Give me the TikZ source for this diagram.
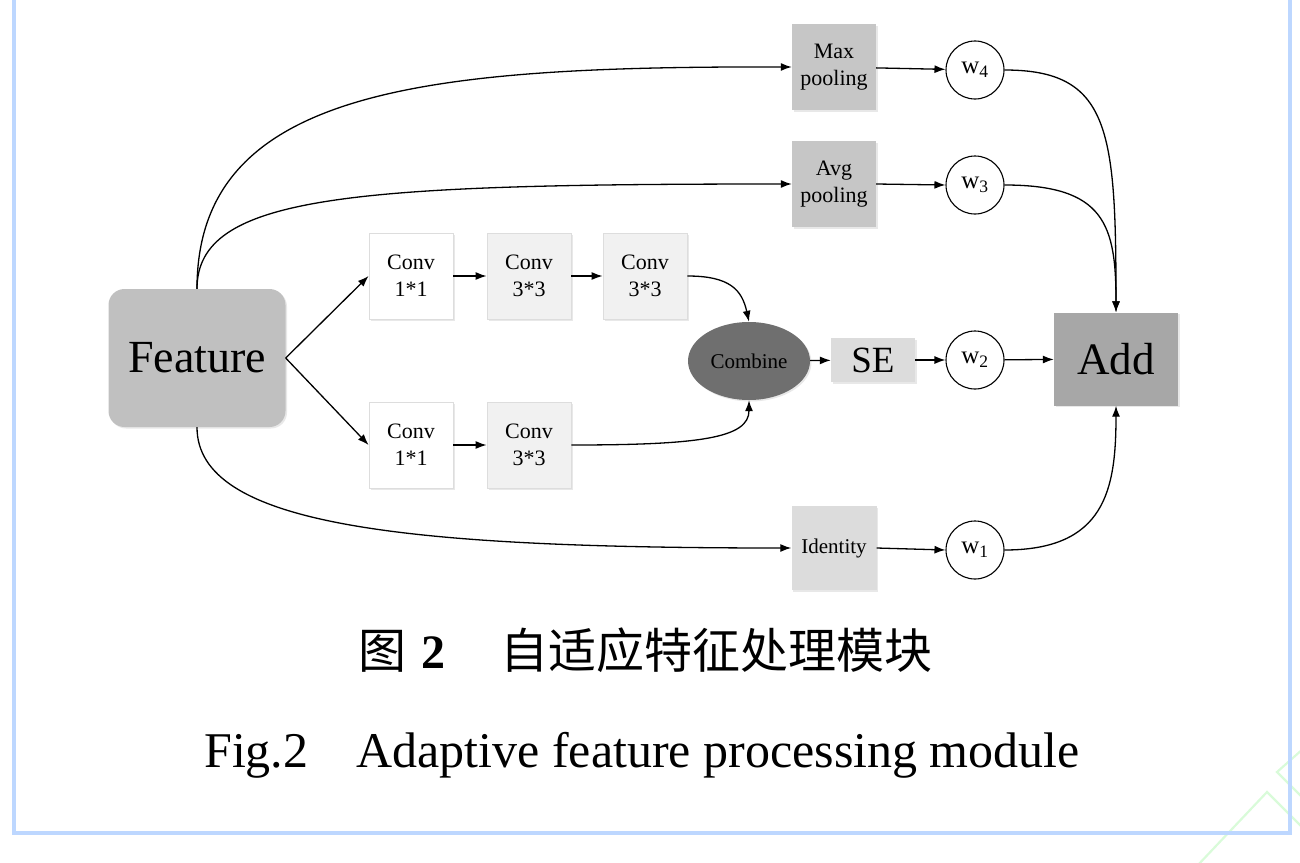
\documentclass[tikz,border=0pt]{standalone}
\usepackage{fontspec}
\setmainfont{Liberation Serif}
\newfontfamily\cjk{Noto Sans CJK SC}
\usetikzlibrary{arrows.meta,shapes.geometric,shadows}
\definecolor{framecol}{HTML}{BDD7FF}
\definecolor{wmark}{HTML}{D9FBD9}
\definecolor{featfill}{HTML}{C0C0C0}
\definecolor{poolfill}{HTML}{C6C6C6}
\definecolor{lightfill}{HTML}{DCDCDC}
\definecolor{convgfill}{HTML}{F1F1F1}
\definecolor{addfill}{HTML}{A7A7A7}
\definecolor{combfill}{HTML}{6F6F6F}
\definecolor{edgecol}{HTML}{DDDDDD}
\begin{document}
\begin{tikzpicture}[x=1pt,y=-1pt,
  arr/.style={-{Latex[length=11pt,width=8pt]}, line width=1.3pt},
  ln/.style={line width=1.3pt},
  shad/.style={drop shadow={shadow xshift=1.5pt,shadow yshift=-1.5pt,opacity=0.18}},
  featbox/.style={shad,fill=featfill,rounded corners=16pt,minimum width=177pt,minimum height=138pt,font=\fontsize{46}{50}\selectfont},
  convw/.style={shad,draw=edgecol,line width=0.8pt,fill=white,minimum width=84pt,minimum height=86pt,align=center,font=\fontsize{22}{27}\selectfont},
  convg/.style={convw,fill=convgfill},
  poolbox/.style={shad,fill=poolfill,minimum width=84pt,minimum height=86pt,align=center,font=\fontsize{22}{27}\selectfont},
  idbox/.style={shad,fill=lightfill,minimum width=85pt,minimum height=84pt,font=\fontsize{21}{25}\selectfont},
  sebox/.style={shad,fill=lightfill,minimum width=84pt,minimum height=44pt,font=\fontsize{37}{40}\selectfont},
  addbox/.style={shad,fill=addfill,minimum width=124pt,minimum height=93pt,font=\fontsize{45}{48}\selectfont},
  combell/.style={ellipse,shad,fill=combfill,minimum width=122pt,minimum height=78pt,inner sep=0pt,font=\fontsize{21}{25}\selectfont},
  circ/.style={circle,draw,line width=1.1pt,fill=white,minimum size=58pt,inner sep=0pt,font=\fontsize{25}{28}\selectfont}
]
\useasboundingbox (0,0) rectangle (1300,862);
% frame and watermark
\draw[wmark,line width=2.2pt] (1197,866) -- (1267,792) -- (1304,829);
\draw[wmark,line width=2.2pt] (1304,748) -- (1277,772) -- (1304,799);
\draw[framecol,line width=4pt] (14,-10) -- (14,833) -- (1290,833) -- (1290,-10);
% nodes
\node[featbox] (feat) at (197,358) {Feature};
\node[convw] (c11a) at (411,276) {Conv\\1*1};
\node[convg] (c33a) at (529,276) {Conv\\3*3};
\node[convg] (c33b) at (645,276) {Conv\\3*3};
\node[convw] (c11b) at (411,445) {Conv\\1*1};
\node[convg] (c33c) at (529,445) {Conv\\3*3};
\node[combell] (comb) at (749,361) {Combine};
\node[sebox] (se) at (873,360) {SE};
\node[circ] (w2) at (975,360) {w\textsubscript{2}};
\node[poolbox] (maxp) at (834,67) {Max\\pooling};
\node[poolbox] (avgp) at (834,184) {Avg\\pooling};
\node[idbox] (ident) at (834,548) {Identity};
\node[circ] (w4) at (975,70) {w\textsubscript{4}};
\node[circ] (w3) at (975,185) {w\textsubscript{3}};
\node[circ] (w1) at (975,550) {w\textsubscript{1}};
\node[addbox] (add) at (1116,359) {Add};
% connectors
\draw[arr] (feat.north) .. controls (197,90) and (420,66) .. (maxp.west);
\draw[arr] (feat.north) .. controls (197,195) and (350,184) .. (avgp.west);
\draw[arr] (feat.south) .. controls (197,525) and (400,548) .. (ident.west);
\draw[arr] (feat.east) -- (c11a.west);
\draw[arr] (feat.east) -- (c11b.west);
\draw[arr] (c11a) -- (c33a);
\draw[arr] (c33a) -- (c33b);
\draw[arr] (c11b) -- (c33c);
\draw[arr] (c33b.east) .. controls (730,276) and (742,290) .. (comb.north);
\draw[arr] (c33c.east) .. controls (700,445) and (749,438) .. (comb.south);
\draw[arr] (comb) -- (se);
\draw[arr] (se) -- (w2);
\draw[arr] (w2) -- (add);
\draw[arr] (maxp) -- (w4);
\draw[arr] (avgp.east) -- (w3.west);
\draw[arr] (ident.east) -- (w1.west);
\draw[arr] (w4.east) .. controls (1110,70) and (1116,130) .. (add.north);
\draw[arr] (w3.east) .. controls (1105,185) and (1116,225) .. (add.north);
\draw[arr] (w1.east) .. controls (1105,550) and (1116,490) .. (add.south);
% captions
\node[font=\fontsize{48}{52}\selectfont] (cap1) at (645,650) {{\cjk 图}\hspace{15pt}\textbf{2}\hspace{55pt}{\cjk 自适应特征处理模块}};
\node[font=\fontsize{50}{54}\selectfont] (cap2) at (642,755) {Fig.2\hspace{48pt}Adaptive feature processing module};
\end{tikzpicture}
\end{document}
